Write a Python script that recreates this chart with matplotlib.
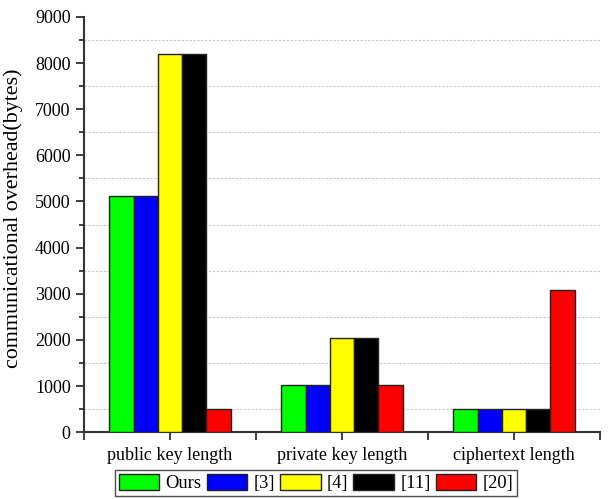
import numpy as np
from matplotlib import pyplot
from matplotlib.ticker import MultipleLocator, FixedLocator

pyplot.rcParams['font.family'] = ['Liberation Serif', 'DejaVu Serif']

categories = ['public key length', 'private key length', 'ciphertext length']
schemes = ['Ours', '[3]', '[4]', '[11]', '[20]']
overhead = {
	'Ours': [5120, 1024, 512],
	'[3]': [5120, 1024, 512],
	'[4]': [8192, 2048, 512],
	'[11]': [8192, 2048, 512],
	'[20]': [512, 1024, 3072],
}
colors = ['#00ff00', '#0000ff', '#ffff00', '#000000', '#ff0000']


def plot_overhead():
	'''
	Grouped bars of the communication overhead for each scheme
	'''
	fig = pyplot.figure(figsize=(6.08, 4.99), dpi=100)
	ax = fig.add_axes([0.138, 0.134, 0.849, 0.832])

	x = np.arange(1, len(categories) + 1)
	width = 0.141
	for i, name in enumerate(schemes):
		offset = (i - (len(schemes) - 1) / 2.) * width
		ax.bar(x + offset, overhead[name], width, color=colors[i],
			edgecolor='#222222', linewidth=1.0, label=name, zorder=3)

	ax.set_xlim(0.5, 3.5)
	ax.set_ylim(0, 9000)
	ax.set_xticks(x)
	ax.set_xticklabels(categories)
	ax.xaxis.set_minor_locator(FixedLocator([0.5, 1.5, 2.5, 3.5]))
	ax.yaxis.set_major_locator(MultipleLocator(1000))
	ax.yaxis.set_minor_locator(MultipleLocator(500))
	ax.grid(True, which='minor', axis='y', color='#c8c8c8', linestyle=(0, (2, 1.5)), linewidth=0.8, zorder=0)
	ax.grid(False, which='major')

	for side in ['top', 'right']:
		ax.spines[side].set_visible(False)
	for side in ['left', 'bottom']:
		ax.spines[side].set_linewidth(1.5)
		ax.spines[side].set_color('#333333')
	ax.tick_params(which='major', direction='out', length=6, width=1.3, colors='#333333',
		labelsize=13, labelcolor='black')
	ax.tick_params(which='minor', direction='out', length=3.5, width=1.3, colors='#333333')
	ax.tick_params(axis='x', which='both', length=6, pad=5)

	ax.set_ylabel('communicational overhead(bytes)', fontsize=15.8)
	ax.yaxis.set_label_coords(-0.118, 0.514)

	leg = ax.legend(loc='center', ncol=5, fontsize=13.3, handlelength=2.2, handleheight=1.0,
		handletextpad=0.33, columnspacing=0.28, borderpad=0.2, borderaxespad=0,
		fancybox=False, frameon=True)
	leg.set_bbox_to_anchor((0.5197, 1 - 483. / 499), transform=fig.transFigure)
	leg.get_frame().set_edgecolor('#222222')
	leg.get_frame().set_linewidth(1.0)

	pyplot.savefig('out.png', dpi=100)
	pyplot.close()


if __name__ == "__main__":
	plot_overhead()
